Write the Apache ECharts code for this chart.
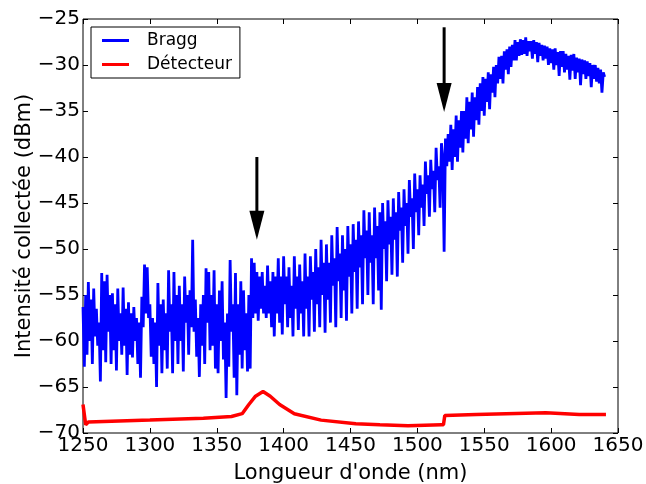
<!DOCTYPE html>
<html>
<head>
<meta charset="utf-8">
<script src="https://cdn.jsdelivr.net/npm/echarts@6/dist/echarts.min.js"></script>
<style>
  html, body { margin: 0; padding: 0; background: #fff; }
  #chart { width: 646px; height: 484px; }
</style>
</head>
<body>
<div id="chart"></div>
<script>
// Bragg spectrum, one value per nm from 1250 nm
const braggStart = 1250
const braggStep = 1
const braggDb = [
  -56.3, -62.8, -55.0, -61.5, -53.6, -60.0, -55.5, -62.5, -54.3, -59.5,
  -56.5, -60.5, -58.0, -64.4, -52.6, -61.0, -53.5, -62.3, -52.8, -59.0,
  -55.0, -62.5, -54.8, -61.0, -56.0, -63.2, -54.3, -60.0, -57.0, -61.5,
  -54.2, -60.5, -56.5, -63.7, -55.8, -61.5, -57.0, -61.8, -56.3, -60.0,
  -57.5, -62.5, -58.0, -64.0, -55.2, -58.5, -51.7, -57.0, -52.0, -57.5,
  -56.0, -61.7, -57.5, -62.5, -58.0, -65.0, -53.7, -60.5, -56.0, -63.5,
  -55.5, -61.0, -57.0, -63.0, -52.3, -59.0, -56.0, -63.5, -52.5, -60.0,
  -55.0, -62.5, -54.0, -60.0, -56.0, -63.3, -53.0, -58.0, -55.0, -61.5,
  -54.5, -58.5, -49.0, -59.0, -55.5, -61.7, -57.5, -63.9, -56.0, -60.5,
  -55.0, -62.5, -52.1, -58.0, -52.5, -61.0, -55.0, -60.5, -52.3, -63.0,
  -56.0, -63.5, -54.5, -60.0, -53.5, -62.0, -58.0, -66.2, -57.0, -62.8,
  -51.2, -59.0, -56.0, -64.0, -52.6, -65.9, -56.0, -61.5, -53.5, -63.0,
  -54.5, -61.0, -57.0, -63.3, -55.0, -63.0, -51.0, -57.5, -51.5, -57.0,
  -52.5, -57.8, -53.0, -56.5, -52.5, -57.0, -54.0, -57.5, -51.8, -57.0,
  -53.5, -58.5, -52.5, -59.5, -53.0, -57.0, -51.0, -58.0, -53.0, -59.3,
  -50.8, -56.0, -53.0, -58.5, -52.0, -57.5, -54.0, -59.5, -50.8, -56.5,
  -53.0, -58.8, -51.7, -57.0, -53.5, -59.5, -50.5, -56.5, -53.0, -59.5,
  -50.8, -55.5, -52.5, -59.0, -50.0, -56.0, -52.0, -58.5, -49.0, -55.0,
  -51.5, -59.1, -49.5, -55.5, -51.5, -58.0, -48.5, -54.0, -51.0, -58.5,
  -47.6, -53.5, -50.5, -57.5, -48.5, -54.5, -50.0, -57.8, -47.5, -53.0,
  -49.5, -57.0, -47.3, -52.5, -49.0, -56.5, -47.0, -52.0, -48.5, -56.0,
  -45.8, -51.0, -48.0, -55.0, -46.0, -51.5, -48.5, -56.0, -45.5, -51.0,
  -47.5, -54.5, -46.0, -56.6, -45.0, -50.0, -47.0, -53.5, -44.7, -49.5,
  -46.5, -52.8, -44.5, -49.0, -46.0, -53.0, -43.8, -48.0, -45.5, -51.5,
  -43.5, -47.5, -45.0, -50.5, -42.5, -46.5, -44.5, -50.0, -41.8, -46.0,
  -43.5, -48.5, -42.0, -45.5, -43.0, -47.5, -40.5, -44.0, -42.0, -46.5,
  -40.3, -43.5, -41.5, -46.0, -39.0, -42.5, -41.0, -45.5, -38.5, -40.0,
  -50.3, -38.0, -41.0, -37.5, -40.5, -36.5, -41.4, -37.0, -40.0, -35.5,
  -40.5, -36.0, -39.0, -35.0, -39.5, -35.0, -38.0, -33.5, -38.5, -34.0,
  -37.0, -33.0, -37.8, -33.5, -36.0, -32.4, -36.5, -32.0, -35.0, -31.3,
  -35.5, -31.5, -34.0, -30.8, -34.8, -31.0, -33.0, -30.2, -33.5, -30.0,
  -32.0, -29.1, -31.5, -29.0, -32.0, -28.5, -30.5, -28.3, -31.0, -28.0,
  -30.2, -27.8, -29.5, -27.3, -29.5, -27.5, -29.0, -27.2, -28.9, -27.3,
  -28.8, -27.0, -29.0, -27.4, -28.5, -27.4, -29.3, -27.3, -28.8, -27.5,
  -29.7, -27.6, -29.0, -27.8, -29.5, -27.9, -29.3, -28.0, -30.0, -28.2,
  -29.8, -28.3, -30.5, -28.2, -30.0, -28.6, -31.2, -28.5, -30.2, -28.5,
  -30.8, -28.8, -30.5, -29.0, -31.6, -28.9, -30.6, -28.8, -31.5, -29.2,
  -30.8, -29.3, -32.2, -29.4, -31.0, -29.5, -31.5, -29.6, -31.2, -29.8,
  -32.4, -30.0, -31.5, -30.0, -31.8, -30.3, -32.0, -30.5, -33.0, -30.8,
  -31.3
]

// Detector curve
const detNm = [1250, 1252, 1254, 1300, 1340, 1361, 1369, 1374, 1379, 1384.6, 1390, 1397, 1408, 1428, 1454, 1472, 1493, 1518, 1519.5, 1520.5, 1544, 1596, 1621, 1641]
const detDb = [-66.9, -69.1, -68.8, -68.6, -68.4, -68.2, -67.9, -66.9, -66.0, -65.5, -66.0, -66.9, -67.9, -68.6, -69.0, -69.1, -69.2, -69.1, -69.1, -68.1, -68.0, -67.8, -68.0, -68.0]

// Arrows: x position, tail and tip values (dBm)
const arrowNm = [1380, 1520]
const arrowTail = [-40.0, -25.9]
const arrowTip = [-49.0, -35.1]

const xTicks = { min: 1250, max: 1650, interval: 50 }
const yTicks = { min: -70, max: -25, interval: 5 }

const font = 'DejaVu Sans'
const minus = v => String(v).replace('-', '\u2212')

const braggData = braggDb.map((v, i) => [braggStart + i * braggStep, v])
const detData = detNm.map((x, i) => [x, detDb[i]])
const arrowData = arrowNm.map((x, i) => [x, arrowTail[i], arrowTip[i]])

const chart = echarts.init(document.getElementById('chart'), null, { renderer: 'canvas' })

const tickBase = { show: true, inside: true, length: 5, lineStyle: { color: '#000', width: 1 } }

chart.setOption({
  animation: false,
  backgroundColor: '#fff',
  textStyle: { fontFamily: font },
  grid: {
    left: 83, right: 28, top: 19, bottom: 51,
    outerBoundsMode: 'none', containLabel: false,
    show: true, borderColor: '#000', borderWidth: 1, backgroundColor: 'transparent'
  },
  legend: {
    data: ['Bragg', 'Détecteur'],
    orient: 'vertical',
    left: 91, top: 27,
    icon: 'rect', itemWidth: 27, itemHeight: 3, itemGap: 7,
    padding: [5, 8, 5, 11],
    borderColor: '#000', borderWidth: 1, borderRadius: 0,
    backgroundColor: '#fff',
    textStyle: { fontFamily: font, fontSize: 17, color: '#000', padding: [0, 0, 0, 13] }
  },
  xAxis: [{
    type: 'value', min: xTicks.min, max: xTicks.max, interval: xTicks.interval,
    name: "Longueur d'onde (nm)", nameLocation: 'middle', nameGap: 30, nameMoveOverlap: false,
    nameTextStyle: { fontFamily: font, fontSize: 21, color: '#000', verticalAlign: 'top' },
    axisLine: { show: false }, splitLine: { show: false },
    axisTick: tickBase,
    axisLabel: { fontFamily: font, fontSize: 20, color: '#000', margin: 3, formatter: v => String(v) }
  }, {
    type: 'value', position: 'top', min: xTicks.min, max: xTicks.max, interval: xTicks.interval,
    axisLine: { show: false }, splitLine: { show: false },
    axisTick: tickBase, axisLabel: { show: false }
  }],
  yAxis: [{
    type: 'value', min: yTicks.min, max: yTicks.max, interval: yTicks.interval,
    name: 'Intensité collectée (dBm)', nameLocation: 'middle', nameGap: 48, nameMoveOverlap: false,
    nameTextStyle: { fontFamily: font, fontSize: 21, color: '#000' },
    axisLine: { show: false }, splitLine: { show: false },
    axisTick: tickBase,
    axisLabel: { fontFamily: font, fontSize: 20, color: '#000', margin: 3, formatter: minus }
  }, {
    type: 'value', position: 'right', min: yTicks.min, max: yTicks.max, interval: yTicks.interval,
    axisLine: { show: false }, splitLine: { show: false },
    axisTick: tickBase, axisLabel: { show: false }
  }],
  series: [{
    name: 'Bragg', type: 'line', data: braggData,
    showSymbol: false, symbol: 'none',
    lineStyle: { color: '#0000ff', width: 2.8 }, itemStyle: { color: '#0000ff' },
    z: 2
  }, {
    name: 'Détecteur', type: 'line', data: detData,
    showSymbol: false, symbol: 'none',
    lineStyle: { color: '#ff0000', width: 3.5 }, itemStyle: { color: '#ff0000' },
    z: 3
  }, {
    type: 'custom', data: arrowData, z: 4,
    renderItem: function (params, api) {
      const tail = api.coord([api.value(0), api.value(1)])
      const tip = api.coord([api.value(0), api.value(2)])
      const headLen = 29, headHalf = 7.5
      return {
        type: 'group',
        children: [{
          type: 'line',
          shape: { x1: tail[0], y1: tail[1], x2: tip[0], y2: tip[1] - headLen + 2 },
          style: { stroke: '#000', lineWidth: 3 }
        }, {
          type: 'polygon',
          shape: { points: [[tip[0] - headHalf, tip[1] - headLen], [tip[0] + headHalf, tip[1] - headLen], [tip[0], tip[1]]] },
          style: { fill: '#000' }
        }]
      }
    }
  }]
})
</script>
</body>
</html>
